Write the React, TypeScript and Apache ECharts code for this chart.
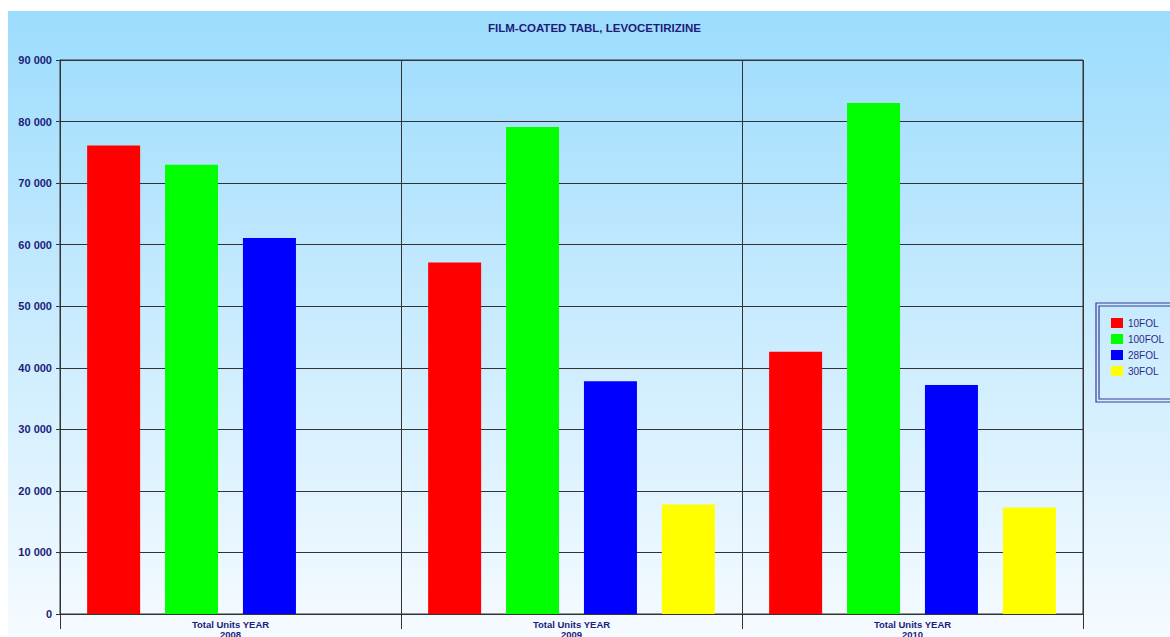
import React, { useEffect, useRef } from "react";
import * as echarts from "echarts";

const categories = ["Total Units YEAR\n2008", "Total Units YEAR\n2009", "Total Units YEAR\n2010"];
const seriesNames = ["10FOL", "100FOL", "28FOL", "30FOL"];
const v10FOL = [76100, 57100, 42600];
const v100FOL = [73000, 79100, 83000];
const v28FOL = [61100, 37800, 37200];
const v30FOL = [null, 17800, 17300];
const colors = ["#ff0000", "#00ff00", "#0000ff", "#ffff00"];
const yTicks = [0, 10000, 20000, 30000, 40000, 50000, 60000, 70000, 80000, 90000];

export default function App() {
  const ref = useRef<HTMLDivElement>(null);
  useEffect(() => {
    if (!ref.current) return;
    const chart = echarts.init(ref.current, null, { renderer: "svg" });
    const font = "'Liberation Sans', Arial, sans-serif";
    const navy = "#1c1c7a";
    const values = [v10FOL, v100FOL, v28FOL, v30FOL];
    chart.setOption({
      animation: false,
      backgroundColor: new echarts.graphic.LinearGradient(0, 0, 0, 1, [
        { offset: 0, color: "#9cdcfd" },
        { offset: 1, color: "#f6fbff" },
      ]),
      textStyle: { fontFamily: font },
      title: {
        text: "FILM-COATED TABL, LEVOCETIRIZINE",
        left: 475,
        top: 6,
        textStyle: { fontSize: 11.5, fontWeight: "bold", color: navy, fontFamily: font },
      },
      grid: {
        left: 52,
        top: 49,
        right: 87,
        bottom: 23,
        outerBoundsMode: "none",
        containLabel: false,
        show: true,
        borderColor: "#333",
        borderWidth: 1,
        backgroundColor: "transparent",
      },
      legend: {
        orient: "vertical",
        left: 1098,
        top: 302,
        itemWidth: 12,
        itemHeight: 10,
        itemGap: 6,
        icon: "rect",
        data: seriesNames,
        textStyle: { fontSize: 10, color: "#2a2a8a", fontFamily: font, lineHeight: 10 },
      },
      graphic: [
        { type: "rect", shape: { x: 1088, y: 292, width: 100, height: 99 }, style: { fill: "none", stroke: "#3a3a9a", lineWidth: 1.2 } },
        { type: "rect", shape: { x: 1091, y: 295, width: 100, height: 93 }, style: { fill: "none", stroke: "#3a3a9a", lineWidth: 1.2 } },
      ],
      xAxis: {
        type: "category",
        data: categories,
        axisLine: { show: true, lineStyle: { color: "#333", width: 1 } },
        axisTick: { show: true, length: 15, lineStyle: { color: "#333" } },
        splitLine: { show: true, lineStyle: { color: "#333", width: 1 } },
        axisLabel: { fontSize: 9.5, fontWeight: "bold", color: navy, margin: 5, lineHeight: 10, fontFamily: font },
      },
      yAxis: {
        type: "value",
        min: 0,
        max: 90000,
        interval: 10000,
        axisLine: { show: true, lineStyle: { color: "#333", width: 1 } },
        axisTick: { show: true, length: 4, lineStyle: { color: "#333" } },
        splitLine: { show: true, lineStyle: { color: "#333", width: 1 } },
        axisLabel: {
          fontSize: 11,
          fontWeight: "bold",
          color: navy,
          margin: 8,
          fontFamily: font,
          formatter: (v: number) => (yTicks.includes(v) ? String(v).replace(/\B(?=(\d{3})+(?!\d))/g, " ") : ""),
        },
      },
      series: seriesNames.map((name, i) => ({
        name,
        type: "bar",
        data: values[i],
        barWidth: 53,
        barGap: "47%",
        itemStyle: { color: colors[i] },
      })),
    });
    return () => chart.dispose();
  }, []);
  return <div ref={ref} style={{ position: "absolute", left: 8, top: 11, width: 1162, height: 626 }} />;
}
